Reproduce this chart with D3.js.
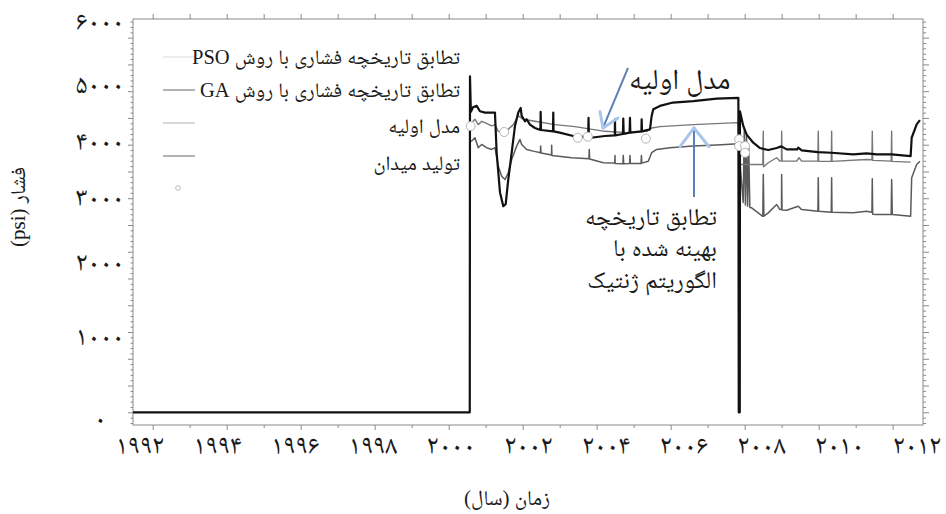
<!DOCTYPE html>
<html><head><meta charset="utf-8">
<script src="https://cdn.jsdelivr.net/npm/d3@7"></script>
<style>
html,body{margin:0;padding:0;background:#fff;}
svg{display:block;}
text{font-family:"Liberation Serif","Noto Naskh Arabic","Noto Sans Arabic","DejaVu Sans",serif;fill:#1a1a1a;}
</style></head><body>
<svg id="c" width="946" height="514"></svg>
<script>
// ---------- data ----------
const yearTicks = [1992,1994,1996,1998,2000,2002,2004,2006,2008,2010,2012];
const yearLabels = ["۱۹۹۲","۱۹۹۴","۱۹۹۶","۱۹۹۸","۲۰۰۰","۲۰۰۲","۲۰۰۴","۲۰۰۶","۲۰۰۸","۲۰۱۰","۲۰۱۲"];
const psiTicks = [0,1000,2000,3000,4000,5000,6000];
const psiLabels = ["۰","۱۰۰۰","۲۰۰۰","۳۰۰۰","۴۰۰۰","۵۰۰۰","۶۰۰۰"];
const legendNames = ["تطابق تاریخچه فشاری با روش PSO","تطابق تاریخچه فشاری با روش GA","مدل اولیه","تولید میدان"];

// initial model (black) [year, psi]
const initialModel = [
 [1991.47,0],[2000.57,0],[2000.576,5020],[2000.60,4490],[2000.657,4560],[2000.757,4580],[2000.846,4500],
 [2000.981,4480],[2001.162,4480],[2001.251,4480],[2001.297,3880],[2001.386,3290],[2001.476,3080],
 [2001.541,3110],[2001.611,3480],[2001.703,3880],[2001.792,4280],[2001.881,4480],[2001.946,4550],
 [2001.973,4430],[2002.062,4350],[2002.108,4380],[2002.197,4300],[2002.332,4250],[2002.422,4230],
 [2002.48,4220],[2002.486,4490],[2002.495,4220],[2002.82,4200],[2002.827,4480],[2002.835,4200],
 [2003.0,4180],[2003.368,4130],[2003.77,4110],[2003.78,4400],[2003.79,4100],[2004.224,4130],
 [2004.49,4140],[2004.495,4380],[2004.50,4140],[2004.71,4160],[2004.719,4390],[2004.73,4160],
 [2004.89,4180],[2004.90,4400],[2004.91,4180],[2005.21,4200],[2005.216,4380],[2005.225,4200],
 [2005.441,4230],[2005.486,4430],[2005.53,4530],[2005.711,4580],[2006.062,4630],[2006.611,4650],
 [2007.243,4690],[2007.83,4700],[2007.84,0],[2007.868,0],[2007.873,4500],[2007.962,4280],
 [2008.054,4150],[2008.232,4030],[2008.414,3950],[2008.638,3920],[2008.865,3950],[2008.99,3975],
 [2009.135,3930],[2009.42,3930],[2009.449,3955],[2009.541,3914],[2009.98,3889],[2010.34,3880],
 [2010.935,3854],[2011.297,3869],[2011.568,3854],[2011.97,3854],[2012.486,3829],[2012.514,4104],
 [2012.649,4304],[2012.738,4368]
];

// GA history match (mid gray)
const gaMatch = [
 [2000.59,4300],[2000.62,4330],[2000.711,4380],[2000.80,4300],[2000.892,4350],[2000.981,4330],
 [2001.162,4280],[2001.251,4300],[2001.341,4200],[2001.476,4180],[2001.611,4230],[2001.746,4300],
 [2001.881,4430],[2002.016,4380],[2002.332,4350],[2002.873,4300],[2003.414,4270],[2004.224,4200],
 [2004.811,4180],[2005.351,4200],[2005.486,4250],[2005.711,4270],[2006.611,4300],[2007.827,4330],
 [2007.873,3705],[2008.49,3705],[2008.503,4200],[2008.51,3670],[2008.638,3730],[2008.865,3805],
 [2008.954,3754],[2008.995,3754],[2009.0,4200],[2009.01,3754],[2009.405,3754],[2009.468,3805],
 [2009.541,3754],[2009.98,3754],[2009.989,4200],[2010.0,3750],[2010.34,3750],[2010.351,4200],
 [2010.36,3750],[2011.297,3779],[2011.44,3775],[2011.449,4200],[2011.46,3765],[2011.96,3754],
 [2011.973,4200],[2011.98,3750],[2012.486,3739]
];

// PSO history match (dark gray)
const psoMatch = [
 [2000.59,4050],[2000.62,4054],[2000.711,4104],[2000.80,3955],[2000.892,4004],[2001.027,3955],
 [2001.162,3929],[2001.251,3955],[2001.341,3679],[2001.432,3529],[2001.522,3480],[2001.611,3580],
 [2001.703,3779],[2001.838,3979],[2001.927,4079],[2001.973,4004],[2002.108,3929],[2002.286,3904],
 [2002.48,3880],[2002.486,3979],[2002.495,3875],[2002.78,3845],[2002.784,3990],[2002.79,3840],
 [2003.324,3805],[2003.79,3790],[2003.80,3930],[2003.81,3785],[2004.178,3730],[2004.49,3725],
 [2004.495,3840],[2004.50,3720],[2004.71,3715],[2004.719,3840],[2004.73,3715],[2004.89,3720],
 [2004.90,3840],[2004.91,3720],[2005.20,3720],[2005.21,3840],[2005.22,3725],[2005.395,3754],
 [2005.486,3880],[2005.622,3929],[2005.981,3955],[2006.611,3979],[2007.243,3994],[2007.827,4015],
 [2007.87,3760],[2007.96,3135],[2007.99,4230],[2008.02,3100],[2008.05,4150],[2008.08,3080],
 [2008.11,3950],[2008.14,3060],[2008.189,3056],[2008.49,2930],
 [2008.503,3555],[2008.52,2930],[2008.638,2981],[2008.865,3105],[2008.954,3030],[2008.995,3030],
 [2009.0,3555],[2009.01,3025],[2009.135,3020],[2009.449,3080],[2009.541,3030],[2009.98,3005],
 [2009.989,3505],[2010.0,3005],[2010.34,2990],[2010.351,3505],[2010.36,2990],[2010.935,2981],
 [2011.297,3005],[2011.44,2990],[2011.449,3490],[2011.46,2960],[2011.568,2956],[2011.96,2956],
 [2011.973,3480],[2011.99,2956],[2012.486,2930],[2012.514,3505],[2012.649,3705],[2012.738,3754]
];

// field observations (circles)
const fieldObs = [
 [2000.595,4278],[2001.50,4190],[2003.49,4104],[2003.76,4120],[2005.33,4090],
 [2007.85,4080],[2007.85,3980],[2008.01,3980],[2008.01,3880]
];

// annotations (data coordinates)
const noteInitial = {text:"مدل اولیه", at:[2007.62,4830], from:[2004.847,5147], tip:[2004.171,4250], head:[[2004.09,4493],[2004.576,4399]]};
const noteGA = {lines:["تطابق تاریخچه","بهینه شده با","الگوریتم ژنتیک"], at:[2007.25,[2800,2330,1860]], from:[2006.631,3218], tip:[2006.631,4250], head:[[2006.253,3970],[2007.037,3970]]};

// ---------- layout ----------
const svg = d3.select("#c");
const L=133, R=923, T=19, B=425;
const x = d3.scaleLinear().domain([1991.468, 2012.82]).range([L, R]);
const y = d3.scaleLinear().domain([-190, 5879]).range([B, T]);
// label placement scales (labels in the original are set slightly off the ticks)
const xLab = d3.scaleLinear().domain([1992, 2012]).range([140, 917]);
const yLab = d3.scaleLinear().domain(psiTicks).range([419,337,263,198,142,85,22]);

const axisColor = "#8a8a8a";
function styleAxis(g){ g.select(".domain").remove(); g.selectAll("line").attr("stroke", axisColor).attr("stroke-width",1); g.selectAll("text").remove(); }

const allYears = d3.range(1992, 2013);
svg.append("g").attr("transform",`translate(0,${B})`)
  .call(d3.axisBottom(x).tickValues(yearTicks).tickSize(5).tickFormat("")).call(styleAxis);
svg.append("g").attr("transform",`translate(0,${B})`)
  .call(d3.axisBottom(x).tickValues(allYears.filter(d=>d%2)).tickSize(3).tickFormat("")).call(styleAxis);
svg.append("g").attr("transform",`translate(0,${T})`)
  .call(d3.axisTop(x).tickValues(allYears).tickSize(5).tickFormat("")).call(styleAxis);

const psiMinor = d3.range(-160, 5880, 80);
const psiMajor = psiMinor.filter(d => d % 400 === 0);
const psiMinorOnly = psiMinor.filter(d => d % 400 !== 0);
svg.append("g").attr("transform",`translate(${L},0)`)
  .call(d3.axisLeft(y).tickValues(psiMajor).tickSize(5).tickFormat("")).call(styleAxis);
svg.append("g").attr("transform",`translate(${L},0)`)
  .call(d3.axisLeft(y).tickValues(psiMinorOnly).tickSize(2.5).tickFormat("")).call(styleAxis);
svg.append("g").attr("transform",`translate(${R},0)`)
  .call(d3.axisRight(y).tickValues(psiMajor).tickSize(6).tickFormat("")).call(styleAxis);
svg.append("g").attr("transform",`translate(${R},0)`)
  .call(d3.axisRight(y).tickValues(psiMinorOnly).tickSize(3).tickFormat("")).call(styleAxis);

svg.append("rect").attr("x",L).attr("y",T).attr("width",R-L).attr("height",B-T)
  .attr("fill","none").attr("stroke",axisColor).attr("stroke-width",1);

// tick labels
const digitFont = "'Noto Naskh Arabic','DejaVu Sans'";
svg.append("g").selectAll("text").data(yearTicks).join("text")
  .attr("x", d=>xLab(d)).attr("y", 454).attr("text-anchor","middle")
  .style("font-family",digitFont).style("font-size","27px").style("letter-spacing","-3.8px")
  .text((d,i)=>yearLabels[i]);
svg.append("g").selectAll("text").data(psiTicks).join("text")
  .attr("x", d => d === 0 ? 106 : 124).attr("y", d=>yLab(d)+8).attr("text-anchor","end")
  .style("font-family",digitFont).style("font-size","27px").style("letter-spacing","-4.8px")
  .text((d,i)=>psiLabels[i]);

// axis titles
svg.append("text").attr("transform","translate(25,207) rotate(-90)")
  .attr("text-anchor","middle").style("font-size","21px").attr("direction","rtl")
  .text("فشار (psi)");
svg.append("text").attr("x",507).attr("y",505).attr("text-anchor","middle")
  .style("font-size","21px").attr("direction","rtl").text("زمان (سال)");

// series
const line = d3.line().x(d=>x(d[0])).y(d=>y(d[1]));
const plot = svg.append("g");
plot.append("path").datum(psoMatch).attr("d",line).attr("fill","none")
  .attr("stroke","#5a5a5a").attr("stroke-width",1.5).attr("stroke-linejoin","round");
plot.append("path").datum(gaMatch).attr("d",line).attr("fill","none")
  .attr("stroke","#777").attr("stroke-width",1.4).attr("stroke-linejoin","round");
plot.append("path").datum(initialModel).attr("d",line).attr("fill","none")
  .attr("stroke","#111").attr("stroke-width",2.2).attr("stroke-linejoin","round");
plot.selectAll("circle").data(fieldObs).join("circle")
  .attr("cx",d=>x(d[0])).attr("cy",d=>y(d[1])).attr("r",4.5)
  .attr("fill","#fff").attr("stroke","#b5b5b5").attr("stroke-width",1);

// legend
const legColors = ["#e4e4e4","#8a8a8a","#c2c2c2","#8a8a8a"];
const legLineY = [57,90,123,156];
const legTextY = [64,97,133,170];
const lg = svg.append("g");
legColors.forEach((c,i)=>{
  lg.append("line").attr("x1",163).attr("x2",195).attr("y1",legLineY[i]).attr("y2",legLineY[i])
    .attr("stroke",c).attr("stroke-width",1.3);
  lg.append("text").attr("x",460).attr("y",legTextY[i]).attr("direction","rtl")
    .attr("text-anchor","start").style("font-size","20.5px").text(legendNames[i]);
});
lg.append("circle").attr("cx",178).attr("cy",188).attr("r",2.3)
  .attr("fill","#fff").attr("stroke","#aaa").attr("stroke-width",0.8);

// annotations
const shaft = "#5b80b6", headC = "#a9c5ea";
function arrow(n){
  svg.append("line").attr("x1",x(n.from[0])).attr("y1",y(n.from[1])).attr("x2",x(n.tip[0])).attr("y2",y(n.tip[1]))
    .attr("stroke",shaft).attr("stroke-width",2);
  n.head.forEach(h=>{
    svg.append("line").attr("x1",x(n.tip[0])).attr("y1",y(n.tip[1])).attr("x2",x(h[0])).attr("y2",y(h[1]))
      .attr("stroke",headC).attr("stroke-width",3).attr("stroke-linecap","round");
  });
}
arrow(noteInitial); arrow(noteGA);
svg.append("text").attr("x",x(noteInitial.at[0])).attr("y",y(noteInitial.at[1]))
  .attr("direction","rtl").attr("text-anchor","start").style("font-size","29px").text(noteInitial.text);
noteGA.lines.forEach((t,i)=>{
  svg.append("text").attr("x",x(noteGA.at[0])).attr("y",y(noteGA.at[1][i]))
    .attr("direction","rtl").attr("text-anchor","start").style("font-size","24px").text(t);
});
</script>
</body></html>
